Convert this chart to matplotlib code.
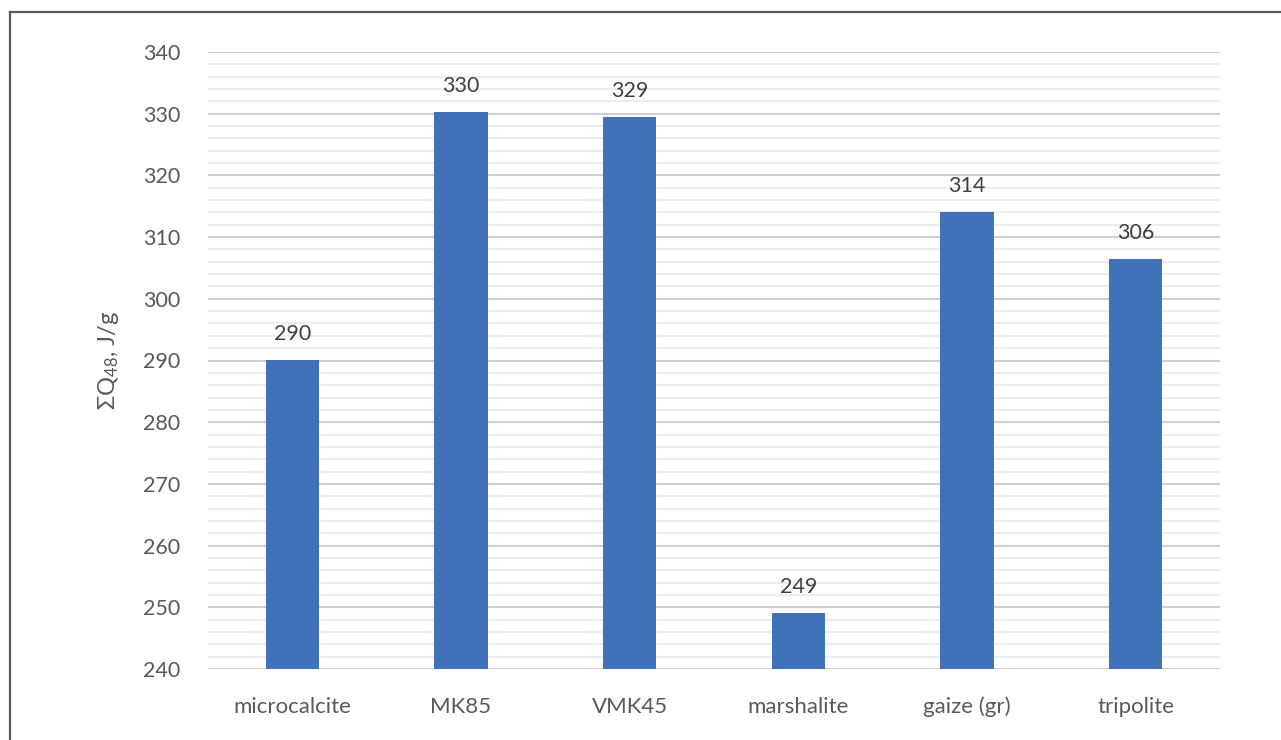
import numpy as np
import matplotlib
matplotlib.use("Agg")
import matplotlib.pyplot as plt
from matplotlib.lines import Line2D

# Data
materials = ["microcalcite", "MK85", "VMK45", "marshalite", "gaize (gr)", "tripolite"]
heat_q48 = [290.1, 330.3, 329.4, 249.1, 314.0, 306.4]
value_labels = ["290", "330", "329", "249", "314", "306"]

plt.rcParams["font.family"] = ["Lato", "DejaVu Sans"]
plt.rcParams["mathtext.fontset"] = "custom"
plt.rcParams["mathtext.rm"] = "Lato"
plt.rcParams["mathtext.default"] = "regular"

fig = plt.figure(figsize=(12.81, 7.40), dpi=100)
ax = fig.add_axes([208 / 1281, 1 - 669 / 740, (1220 - 208) / 1281, (669 - 52) / 740])

x = np.arange(len(materials))
bars = ax.bar(x, heat_q48, width=0.315, color="#4171B8", zorder=3)

for b, lab in zip(bars, value_labels):
    ax.text(b.get_x() + b.get_width() / 2, b.get_height() + 2.6, lab,
            ha="center", va="bottom", fontsize=15.5, color="#404040")

ax.set_ylim(240, 340)
ax.set_xlim(-0.5, len(materials) - 0.5)
ax.set_yticks(np.arange(240, 341, 10))
ax.set_yticks(np.arange(240, 341, 2), minor=True)
ax.set_xticks(x)
ax.set_xticklabels(materials)

ax.grid(axis="y", which="major", color="#d0d0d0", linewidth=1.5, zorder=0)
ax.grid(axis="y", which="minor", color="#ececec", linewidth=1.3, zorder=0)
for s in ax.spines.values():
    s.set_visible(False)

ax.tick_params(axis="y", which="both", length=0, pad=20, labelsize=15.5, labelcolor="#595959")
ax.tick_params(axis="x", length=0, pad=20, labelsize=16, labelcolor="#595959")

ax.set_ylabel("ΣQ$_{48}$, J/g", fontsize=17, color="#595959", labelpad=16)

# grey frame cropped at the right and bottom
fx = 10 / 1281
fy = 1 - 11.5 / 740
fig.add_artist(Line2D([fx, fx], [0, fy], transform=fig.transFigure, color="#5a5a5a", linewidth=1.6))
fig.add_artist(Line2D([fx, 1], [fy, fy], transform=fig.transFigure, color="#5a5a5a", linewidth=1.6))

fig.savefig("out.png", dpi=100)
